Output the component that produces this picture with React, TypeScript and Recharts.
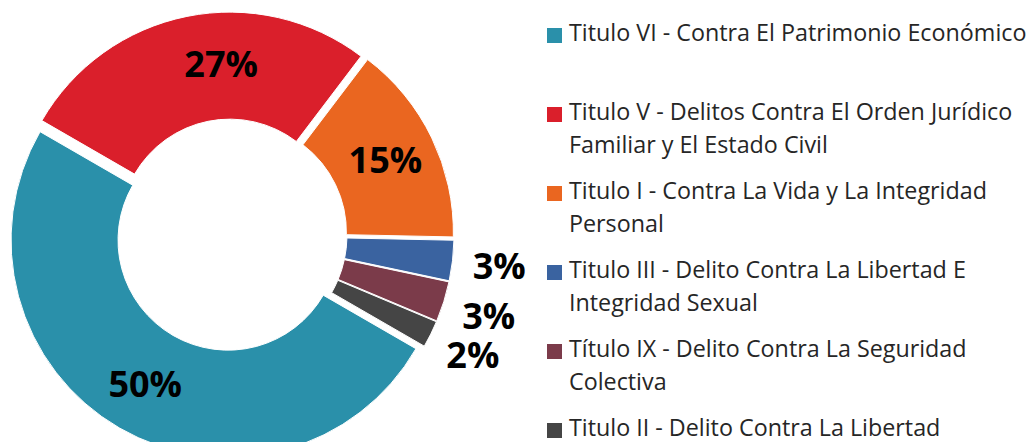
import { PieChart, Pie, Cell, Legend, Sector } from "recharts";

const categories = [
  "Titulo VI - Contra El Patrimonio Económico",
  "Titulo V - Delitos Contra El Orden Jurídico Familiar y El Estado Civil",
  "Titulo I - Contra La Vida y La Integridad Personal",
  "Titulo III - Delito Contra La Libertad E Integridad Sexual",
  "Título IX - Delito Contra La Seguridad Colectiva",
  "Titulo II - Delito Contra La Libertad Individual y Otras Garantías",
];
const values = [50, 27, 15, 3, 3, 2];
const colors = ["#2A90AA", "#DA1F2B", "#EA6620", "#3A63A0", "#7B3B4A", "#454545"];

const data = categories.map((name, i) => ({ name, value: values[i] }));

const RADIAN = Math.PI / 180;
const EXPLODE = 6;
const FONT = "'Open Sans', sans-serif";
// the 27% label was dragged a bit to the right in the original
const labelNudge: Record<number, { dx: number; dy: number }> = { 1: { dx: 24, dy: -3 } };

// each slice pushed out a little along its bisector, like Excel's "point explosion"
const ExplodedSector = (props: any) => {
  const { cx, cy, midAngle } = props;
  const dx = EXPLODE * Math.cos(-midAngle * RADIAN);
  const dy = EXPLODE * Math.sin(-midAngle * RADIAN);
  return <Sector {...props} cx={cx + dx} cy={cy + dy} />;
};

const renderLabel = (props: any) => {
  const { cx, cy, midAngle, innerRadius, outerRadius, percent, index } = props;
  const inside = percent > 0.05;
  const r = inside ? (innerRadius + outerRadius) / 2 + 8 : outerRadius + 53;
  const nudge = labelNudge[index] || { dx: 0, dy: 0 };
  const x = cx + r * Math.cos(-midAngle * RADIAN) + nudge.dx;
  const y = cy + r * Math.sin(-midAngle * RADIAN) + nudge.dy;
  return (
    <text
      x={x}
      y={y + 13}
      textAnchor="middle"
      fill="#000"
      fontFamily={FONT}
      fontWeight={700}
      fontSize={36}
    >
      {`${Math.round(percent * 100)}%`}
    </text>
  );
};

const renderLegend = () => (
  <div style={{ fontFamily: FONT, fontSize: 23.3, lineHeight: "33px", color: "#262626" }}>
    {categories.map((name, i) => (
      <div key={name} style={{ position: "relative", height: 79, paddingLeft: 22, width: 470 }}>
        <span
          style={{
            position: "absolute",
            left: 0,
            top: 12,
            width: 15,
            height: 15,
            background: colors[i],
          }}
        />
        {name}
      </div>
    ))}
  </div>
);

export default function App() {
  return (
    <div
      style={{
        position: "absolute",
        left: 0,
        top: 0,
        width: 1031,
        height: 442,
        overflow: "hidden",
        background: "#fff",
      }}
    >
      <PieChart width={1031} height={442} margin={{ top: 0, right: 0, bottom: 0, left: 0 }}>
        <Pie
          data={data}
          dataKey="value"
          nameKey="name"
          cx={231}
          cy={235}
          innerRadius={110}
          outerRadius={217}
          startAngle={-30}
          endAngle={-390}
          stroke="#fff"
          strokeWidth={1}
          shape={ExplodedSector}
          activeShape={ExplodedSector}
          label={renderLabel}
          labelLine={false}
          isAnimationActive={false}
        >
          {data.map((d, i) => (
            <Cell key={d.name} fill={colors[i]} />
          ))}
        </Pie>
        <Legend
          layout="vertical"
          align="right"
          verticalAlign="top"
          content={renderLegend}
          wrapperStyle={{ left: 547, top: 16, width: 492 }}
        />
      </PieChart>
    </div>
  );
}
